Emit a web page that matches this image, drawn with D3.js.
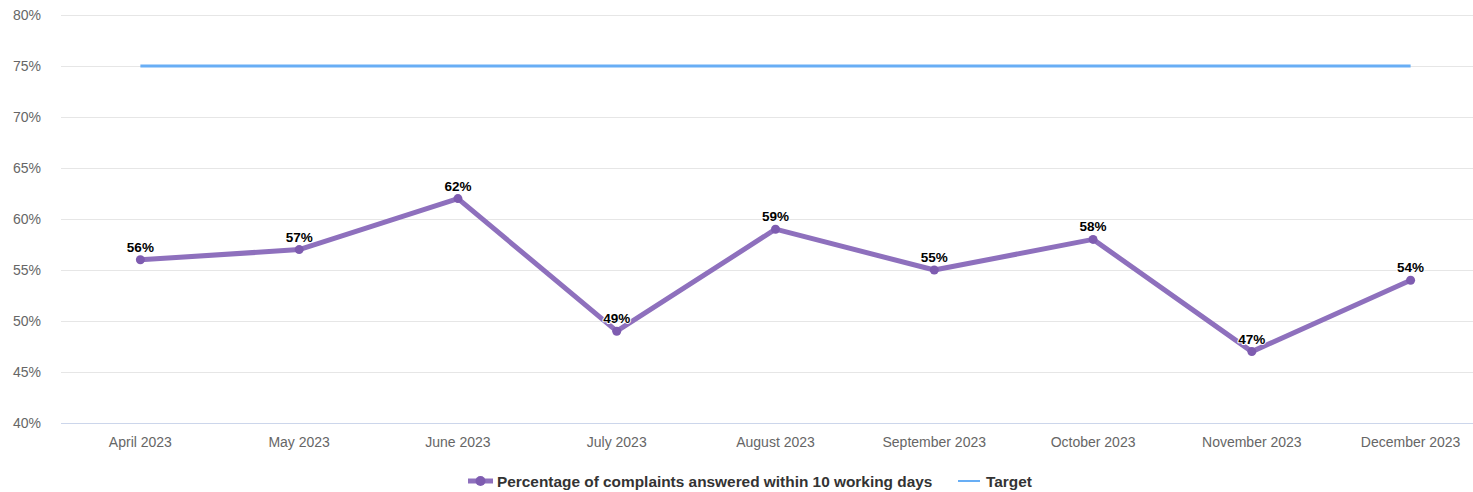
<!DOCTYPE html>
<html>
<head>
    <meta charset="utf-8">
    <title>complaints-chart</title>
    <style>
        body { margin: 0; background: #fff; }
        svg { display: block; font-family: "Liberation Sans", Arial, sans-serif; }
    </style>
</head>
<body>
    <svg width="1473" height="492"></svg>

    <script src="https://cdn.jsdelivr.net/npm/d3@7/dist/d3.min.js"></script>
    <script>

    var months = ['April 2023', 'May 2023', 'June 2023', 'July 2023', 'August 2023',
        'September 2023', 'October 2023', 'November 2023', 'December 2023']
    var answered = [56, 57, 62, 49, 59, 55, 58, 47, 54]
    var target = [75, 75, 75, 75, 75, 75, 75, 75, 75]
    var yTicks = [40, 45, 50, 55, 60, 65, 70, 75, 80]
    var seriesNames = ['Percentage of complaints answered within 10 working days', 'Target']

    var svg = d3.select('svg')

    // band centres, plot runs a bit past the right edge
    var x = d3.scalePoint().domain(months).range([61, 1490]).padding(0.5)
    var y = d3.scaleLinear().domain([40, 80]).range([423, 15])

    // grid lines
    svg.append('g').selectAll('line')
        .data(yTicks.slice(1))
        .enter().append('line')
        .attr('x1', 61).attr('x2', 1473)
        .attr('y1', function(d){ return y(d) + 0.5 })
        .attr('y2', function(d){ return y(d) + 0.5 })
        .attr('stroke', '#e6e6e6')

    // x axis line
    svg.append('line')
        .attr('x1', 61).attr('x2', 1473)
        .attr('y1', y(40) + 0.5).attr('y2', y(40) + 0.5)
        .attr('stroke', '#ccd6eb')

    // y labels
    svg.append('g').selectAll('text')
        .data(yTicks)
        .enter().append('text')
        .attr('x', 41)
        .attr('y', function(d){ return y(d) + 5 })
        .attr('text-anchor', 'end')
        .attr('font-size', 14)
        .attr('fill', '#666')
        .text(function(d){ return d + '%' })

    // x labels
    svg.append('g').selectAll('text')
        .data(months)
        .enter().append('text')
        .attr('x', function(d){ return x(d) })
        .attr('y', 447)
        .attr('text-anchor', 'middle')
        .attr('font-size', 14)
        .attr('fill', '#666')
        .text(function(d){ return d })

    var line = d3.line()
        .x(function(d, i){ return x(months[i]) })
        .y(function(d){ return y(d) })

    // target
    svg.append('path')
        .datum(target)
        .attr('d', line)
        .attr('fill', 'none')
        .attr('stroke', '#68aef5')
        .attr('stroke-width', 3)

    // main series
    svg.append('path')
        .datum(answered)
        .attr('d', line)
        .attr('fill', 'none')
        .attr('stroke', '#8e70bd')
        .attr('stroke-width', 5)
        .attr('stroke-linejoin', 'round')
        .attr('stroke-linecap', 'round')

    svg.append('g').selectAll('circle')
        .data(answered)
        .enter().append('circle')
        .attr('cx', function(d, i){ return x(months[i]) })
        .attr('cy', function(d){ return y(d) })
        .attr('r', 4.5)
        .attr('fill', '#7e5cb0')

    // data labels
    svg.append('g').selectAll('text')
        .data(answered)
        .enter().append('text')
        .attr('x', function(d, i){ return x(months[i]) })
        .attr('y', function(d){ return y(d) - 8 })
        .attr('text-anchor', 'middle')
        .attr('font-size', 13.5)
        .attr('font-weight', 'bold')
        .attr('fill', '#000')
        .attr('stroke', '#fff')
        .attr('stroke-width', 2)
        .attr('paint-order', 'stroke')
        .attr('stroke-linejoin', 'round')
        .text(function(d){ return d + '%' })

    // legend
    var legend = svg.append('g').attr('transform', 'translate(468,481)')
    legend.append('line')
        .attr('x1', 0).attr('x2', 25).attr('y1', 0).attr('y2', 0)
        .attr('stroke', '#8e70bd').attr('stroke-width', 5)
    legend.append('circle').attr('cx', 12.5).attr('cy', 0).attr('r', 5).attr('fill', '#7e5cb0')
    legend.append('text')
        .attr('x', 29).attr('y', 5.5)
        .attr('font-size', 15.4).attr('font-weight', 'bold').attr('fill', '#333')
        .text(seriesNames[0])
    legend.append('line')
        .attr('x1', 490).attr('x2', 512).attr('y1', 0).attr('y2', 0)
        .attr('stroke', '#68aef5').attr('stroke-width', 2)
    legend.append('text')
        .attr('x', 518).attr('y', 5.5)
        .attr('font-size', 15.4).attr('font-weight', 'bold').attr('fill', '#333')
        .text(seriesNames[1])

    </script>
</body>
</html>
